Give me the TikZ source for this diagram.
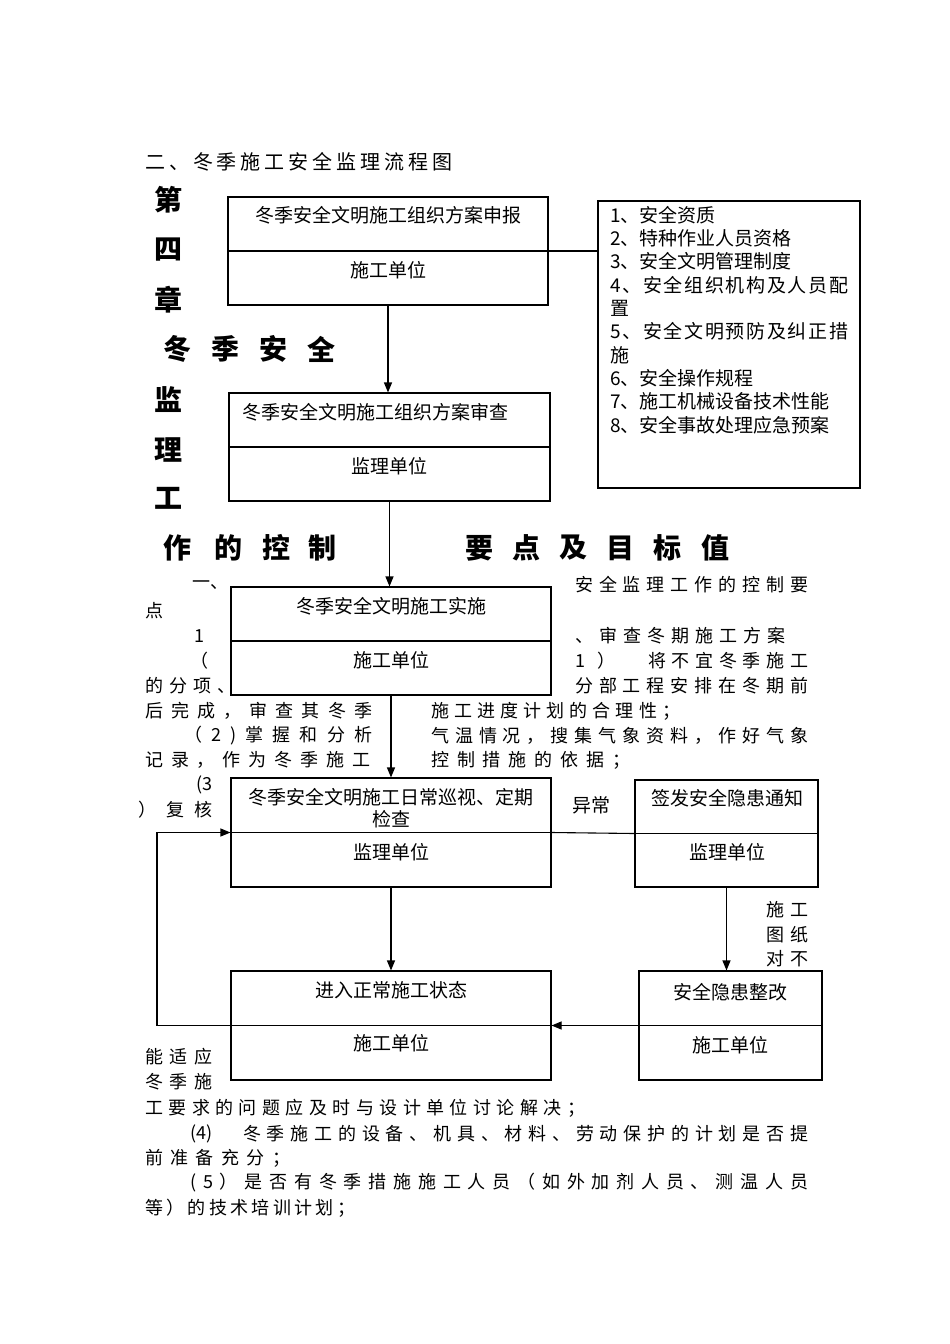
\documentclass[tikz,border=0pt]{standalone}
\usepackage{fontspec}
\newfontfamily\cjk{Noto Sans CJK SC}
\usetikzlibrary{arrows.meta}
% spread the characters of a line over a given width
\newcommand\spreadA[1]{#1\spreadB}
\newcommand\spreadB[1]{\ifx#1\relax\else\hfill#1\expandafter\spreadB\fi}
\newcommand\spreadto[2]{\makebox[#1][l]{\spreadA#2\relax}}
\begin{document}
\begin{tikzpicture}[x=1pt, y=-1pt,
	box/.style={draw, line width=1.1pt, inner sep=0pt},
	link/.style={line width=1.1pt},
	arr/.style={line width=1.1pt, -{Triangle[length=10pt, width=8pt]}},
	lbl/.style={inner sep=0pt, font=\cjk\fontsize{19}{22}\selectfont},
	txt/.style={anchor=west, inner sep=0pt, font=\cjk\fontsize{18}{18}\selectfont},
	head/.style={inner sep=0pt, font=\cjk\bfseries\fontsize{28}{28}\selectfont}]
	\fill[white] (0,0) rectangle (950,1344);
	\useasboundingbox (0,0) rectangle (950,1344);
	% headings
	\node[txt, font=\cjk\fontsize{20}{20}\selectfont] (title) at (145,162) {\spreadto{307pt}{二、冬季施工安全监理流程图}};
	\foreach \c/\x/\y [count=\i] in {第/168/200, 四/168/250, 章/168/300,
		冬/177/349, 季/225/349, 安/273/349, 全/321/349,
		监/168/400, 理/168/450, 工/168/498,
		作/177/548, 的/228/548, 控/276/548, 制/322/548,
		要/479/548, 点/526/548, 及/573/548, 目/620/548, 标/667/548, 值/715/548}
		\node[head] (h\i) at (\x,\y) {\c};
	% body text
	\node[txt] (l1) at (192,585) {\spreadto{36pt}{一、}};
	\node[txt] (r1) at (575,585) {\spreadto{233pt}{安全监理工作的控制要}};
	\node[txt] (l2) at (145,611) {点};
	\node[txt] (l3) at (194,636) {1};
	\node[txt] (r2) at (575,636) {\spreadto{210pt}{、审查冬期施工方案}};
	\node[txt] (l4) at (190,661) {（};
	\node[txt] (r3a) at (575,661) {\spreadto{40pt}{1）}};
	\node[txt] (r3b) at (648,661) {\spreadto{160pt}{将不宜冬季施工}};
	\node[txt] (l5) at (145,686) {\spreadto{90pt}{的分项、}};
	\node[txt] (r4) at (575,686) {\spreadto{233pt}{分部工程安排在冬期前}};
	\node[txt] (l6) at (145,711) {\spreadto{227pt}{后完成，审查其冬季}};
	\node[txt] (r5) at (431,711) {\spreadto{249pt}{施工进度计划的合理性；}};
	\node[txt] (l7) at (184,736) {\spreadto{188pt}{（2)掌握和分析}};
	\node[txt] (r6) at (431,736) {\spreadto{377pt}{气温情况，搜集气象资料，作好气象}};
	\node[txt] (l8) at (145,760) {\spreadto{225pt}{记录，作为冬季施工}};
	\node[txt] (r7) at (431,760) {\spreadto{199pt}{控制措施的依据；}};
	\node[txt] (l9) at (196,785) {(3};
	\node[txt] (l10) at (138,810) {\spreadto{74pt}{）复核}};
	\node[txt] (l11) at (766,910) {\spreadto{42pt}{施工}};
	\node[txt] (l12) at (766,935) {\spreadto{42pt}{图纸}};
	\node[txt] (l13) at (766,959) {\spreadto{42pt}{对不}};
	\node[txt] (l14) at (145,1057) {\spreadto{67pt}{能适应}};
	\node[txt] (l15) at (145,1082) {\spreadto{67pt}{冬季施}};
	\node[txt] (p1) at (145,1108) {\spreadto{440pt}{工要求的问题应及时与设计单位讨论解决；}};
	\node[txt] (p2a) at (190,1134) {(4)};
	\node[txt] (p2b) at (243,1134) {\spreadto{565pt}{冬季施工的设备、机具、材料、劳动保护的计划是否提}};
	\node[txt] (p3) at (145,1158) {\spreadto{145pt}{前准备充分；}};
	\node[txt] (p4) at (190,1183) {\spreadto{618pt}{(5）是否有冬季措施施工人员（如外加剂人员、测温人员}};
	\node[txt] (p5) at (145,1208) {\spreadto{210pt}{等）的技术培训计划；}};
	% boxes
	\node[box, fill=white, minimum width=320pt, minimum height=108pt] (b1) at (388,251) {};
	\node[box, fill=white, minimum width=321pt, minimum height=108pt] (b2) at (389.5,447) {};
	\node[box, fill=white, minimum width=320pt, minimum height=108pt] (b3) at (391,641) {};
	\node[box, fill=white, minimum width=320pt, minimum height=109pt] (b4) at (391,832.5) {};
	\node[box, fill=white, minimum width=183pt, minimum height=107pt] (b5) at (726.5,833.5) {};
	\node[box, fill=white, minimum width=183pt, minimum height=109pt] (b6) at (730.5,1025.5) {};
	\node[box, fill=white, minimum width=320pt, minimum height=109pt] (b7) at (391,1025.5) {};
	\node[box, minimum width=262pt, minimum height=287pt] (list) at (729,344.5) {};
	\foreach \i in {1,...,7}
		\draw[link] (b\i.west) -- (b\i.east);
	% box texts
	\node[lbl] (b1t) at (388,215) {冬季安全文明施工组织方案申报};
	\node[lbl] (b1u) at (388,270) {施工单位};
	\node[lbl] (b2t) at (375,412) {冬季安全文明施工组织方案审查};
	\node[lbl] (b2u) at (389,466) {监理单位};
	\node[lbl] (b3t) at (391,606) {冬季安全文明施工实施};
	\node[lbl] (b3u) at (391,660) {施工单位};
	\node[lbl, align=center] (b4t) at (391,808) {冬季安全文明施工日常巡视、定期\\检查};
	\node[lbl] (b4u) at (391,852) {监理单位};
	\node[lbl] (b5t) at (727,798) {签发安全隐患通知};
	\node[lbl] (b5u) at (727,852) {监理单位};
	\node[lbl] (b6t) at (730,992) {安全隐患整改};
	\node[lbl] (b6u) at (730,1045) {施工单位};
	\node[lbl] (b7t) at (391,990) {进入正常施工状态};
	\node[lbl] (b7u) at (391,1043) {施工单位};
	\node[lbl] (abn) at (591,805) {异常};
	\node[lbl, anchor=north west, align=left, font=\cjk\fontsize{19}{23.3}\selectfont] (items) at (610,206)
		{1、安全资质\\2、特种作业人员资格\\3、安全文明管理制度\\
		\spreadto{238pt}{4、安全组织机构及人员配}\\置\\
		\spreadto{238pt}{5、安全文明预防及纠正措}\\施\\
		6、安全操作规程\\7、施工机械设备技术性能\\8、安全事故处理应急预案};
	% connectors
	\draw[arr] (b1.south) -- (b1.south |- b2.north);
	\draw[arr] (b2.south) -- (b2.south |- b3.north);
	\draw[arr] (b3.south) -- (b3.south |- b4.north);
	\draw[arr] (b4.south) -- (b7.north);
	\draw[link] (b1.east) -- (b1.east -| list.west);
	\draw[link] (b4.east) -- (b5.west);
	\draw[arr] (b5.south) -- (b5.south |- b6.north);
	\draw[arr] (b6.west) -- (b7.east);
	\coordinate (back) at (157,1025.5);
	\draw[arr] (b7.west) -- (back) |- (b4.west);
\end{tikzpicture}
\end{document}
